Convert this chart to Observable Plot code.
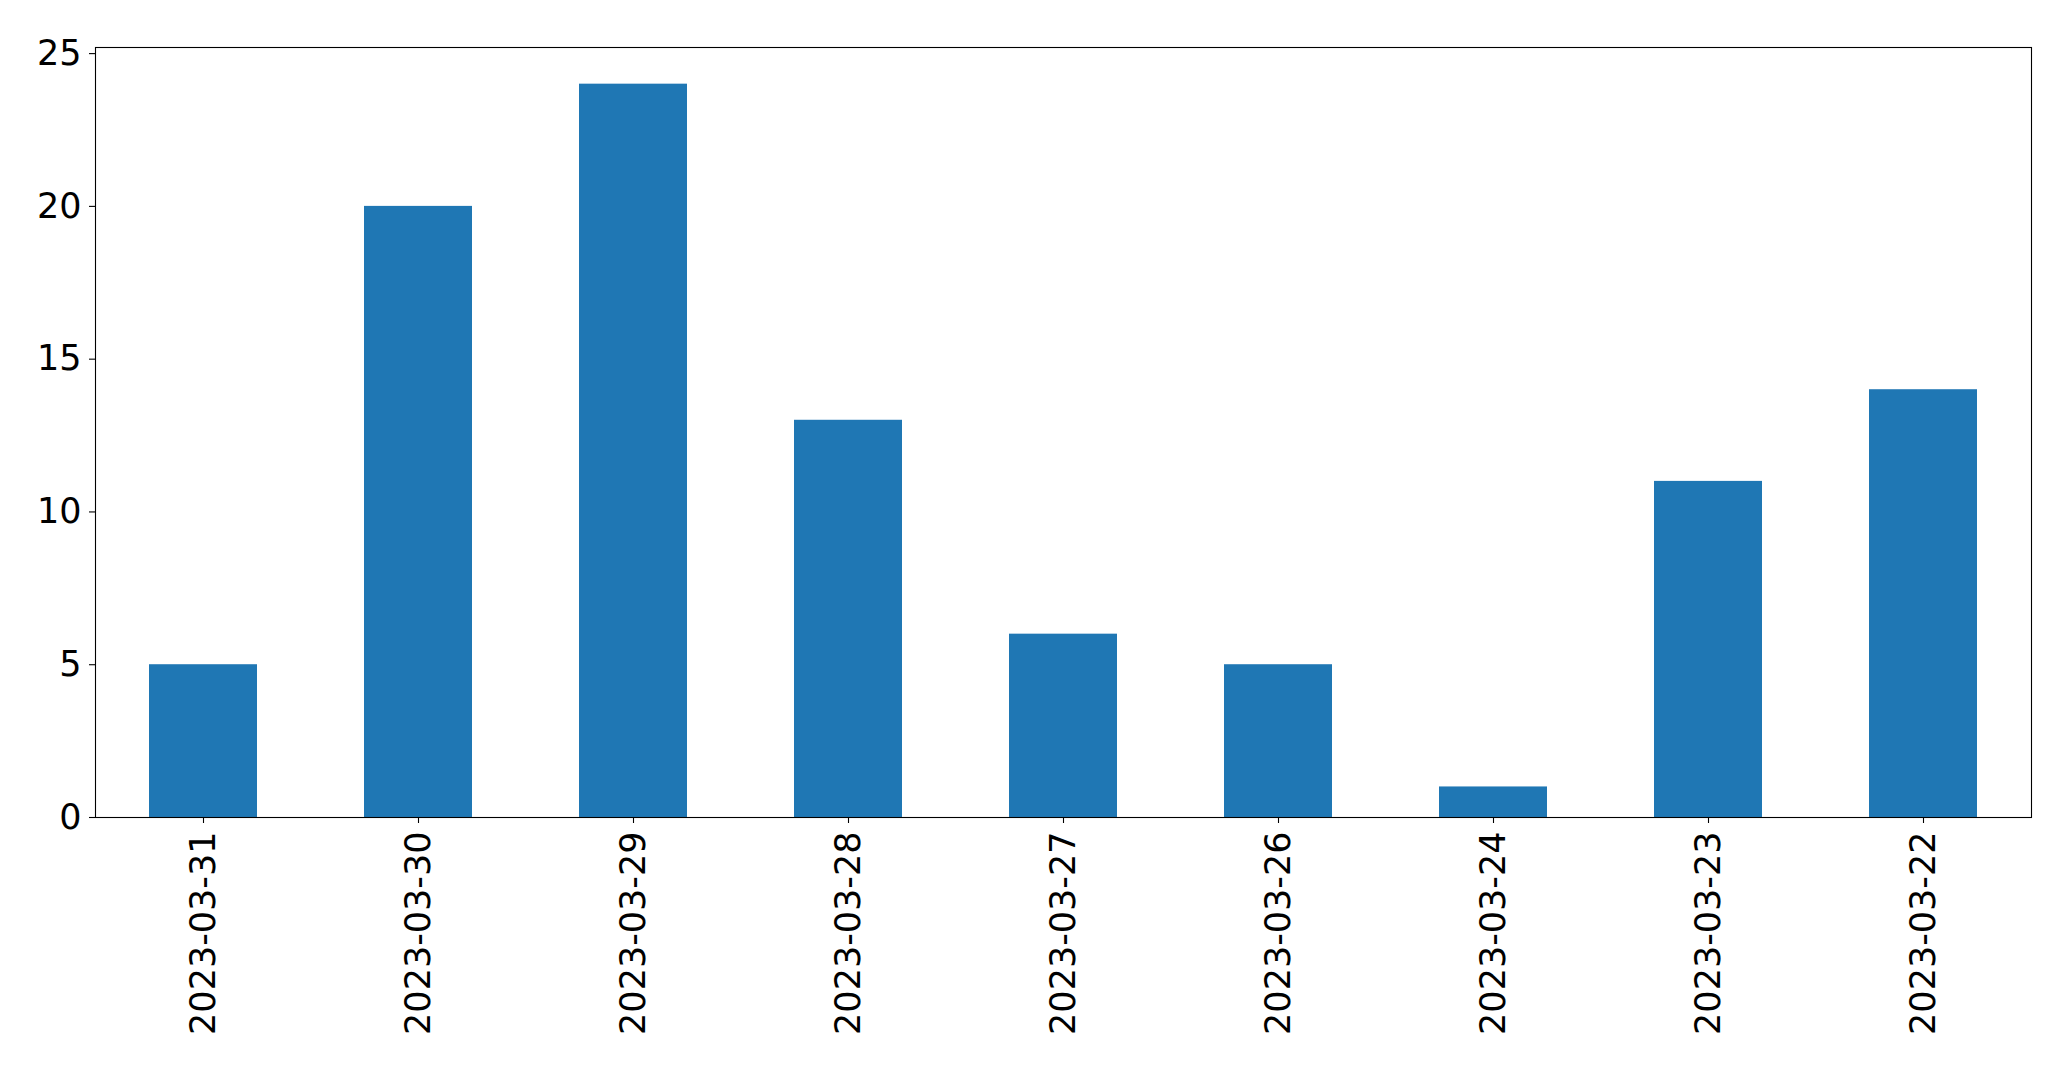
<!DOCTYPE html>
<html>
<head>
<meta charset="utf-8">
<script src="https://cdn.jsdelivr.net/npm/d3@7"></script>
<script src="https://cdn.jsdelivr.net/npm/@observablehq/plot@0.6"></script>
<style>
  html, body { margin: 0; padding: 0; background: #fff; }
</style>
</head>
<body>
<div id="chart"></div>
<script>
const dates = ["2023-03-31", "2023-03-30", "2023-03-29", "2023-03-28", "2023-03-27", "2023-03-26", "2023-03-24", "2023-03-23", "2023-03-22"];
const counts = [5, 20, 24, 13, 6, 5, 1, 11, 14];
const yTicks = [0, 5, 10, 15, 20, 25];

const data = dates.map((d, i) => ({date: d, count: counts[i]}));

const chart = Plot.plot({
  width: 2071,
  height: 1069,
  marginLeft: 95,
  marginRight: 40,
  marginTop: 47,
  marginBottom: 252,
  style: {fontFamily: "DejaVu Sans", fontSize: "35px", color: "#000", background: "#fff"},
  x: {type: "band", domain: dates, paddingInner: 0.5, paddingOuter: 0.25, align: 0.5},
  y: {domain: [0, 25.2]},
  marks: [
    Plot.barY(data, {x: "date", y: "count", fill: "#1f77b4"}),
    Plot.axisY({ticks: yTicks, tickSize: 6, tickPadding: 8, fontSize: 35, label: null, stroke: "#000", strokeWidth: 1.1}),
    Plot.axisX({tickSize: 6, tickPadding: 8, tickRotate: -90, fontSize: 35, label: null, stroke: "#000", strokeWidth: 1.1}),
    Plot.frame({stroke: "#000", strokeWidth: 1.1})
  ]
});
document.getElementById("chart").appendChild(chart);
</script>
</body>
</html>
